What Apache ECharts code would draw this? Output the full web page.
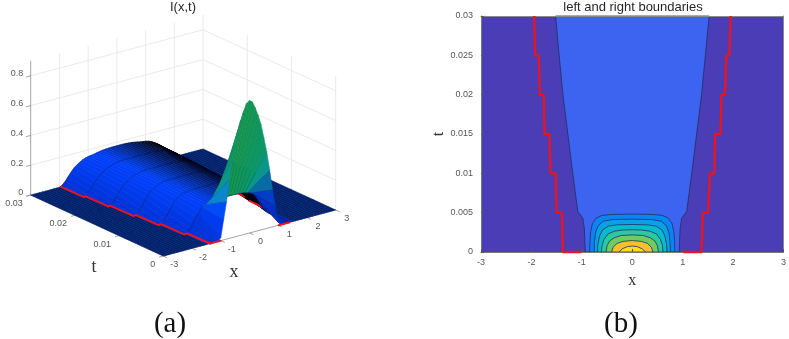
<!DOCTYPE html>
<html>
<head>
<meta charset="utf-8">
<style>html,body{margin:0;padding:0;background:#fff}#c{width:789px;height:339px;filter:blur(0.4px)}</style>
<script src="https://cdn.jsdelivr.net/npm/echarts@6/dist/echarts.min.js"></script>
</head>
<body>
<div id="c"></div>
<script>
// ---------- tick labels ----------
const xTicks = [-3, -2, -1, 0, 1, 2, 3];
const tTicks = [0, 0.01, 0.02, 0.03];
const zTicks = [0, 0.2, 0.4, 0.6, 0.8];
const zTop = 0.9;

// ---------- surface I(x,t) ----------
const meshX = [-3,-2.9,-2.8,-2.7,-2.6,-2.5,-2.4,-2.3,-2.2,-2.1,-2,-1.9,-1.8,-1.7,-1.6,-1.5,-1.4,-1.3,-1.2,-1.1,-1,-0.9,-0.8,-0.7,-0.6,-0.5,-0.4,-0.3,-0.2,-0.1,0,0.1,0.2,0.3,0.4,0.5,0.6,0.7,0.8,0.9,1,1.1,1.2,1.3,1.4,1.5,1.6,1.7,1.8,1.9,2,2.1,2.2,2.3,2.4,2.5,2.6,2.7,2.8,2.9,3];
const meshT = [0, 0.005, 0.01, 0.015, 0.02, 0.025, 0.03];
const rowT000 = [0,0,0,0,0,0,0,0,0,0,0,0,0,0,0,0,0,0,0,0,.02,.135,.25,.39,.515,.615,.71,.775,.83,.875,.89,.875,.83,.775,.71,.615,.515,.39,.25,.135,.02,0,0,0,0,0,0,0,0,0,0,0,0,0,0,0,0,0,0,0,0];
const rowT005 = [0,0,0,0,0,0,0,0,0,0,0,0,0,0,0,0,.005,.03,.06,.094,.122,.148,.16,.168,.172,.175,.176,.177,.178,.178,.178,.178,.178,.177,.176,.175,.172,.168,.16,.148,.122,.085,.045,.015,.002,0,0,0,0,0,0,0,0,0,0,0,0,0,0,0,0];
const rowT010 = [0,0,0,0,0,0,0,0,0,0,0,0,0,0,0,.006,.032,.06,.094,.122,.146,.158,.167,.172,.176,.178,.178,.178,.178,.178,.178,.178,.178,.178,.178,.178,.176,.172,.167,.158,.146,.122,.094,.06,.032,.006,0,0,0,0,0,0,0,0,0,0,0,0,0,0,0];
const rowT015 = [0,0,0,0,0,0,0,0,0,0,0,0,0,0,.01,.035,.065,.095,.122,.14,.153,.163,.17,.175,.177,.178,.178,.178,.178,.178,.178,.178,.178,.178,.178,.178,.177,.175,.17,.163,.153,.14,.122,.095,.065,.035,.01,0,0,0,0,0,0,0,0,0,0,0,0,0,0];
const rowT020 = [0,0,0,0,0,0,0,0,0,0,0,0,0,.015,.04,.067,.093,.118,.135,.146,.156,.165,.171,.175,.177,.178,.178,.178,.178,.178,.178,.178,.178,.178,.178,.178,.177,.175,.171,.165,.156,.146,.135,.118,.093,.067,.04,.015,0,0,0,0,0,0,0,0,0,0,0,0,0];
const rowT025 = [0,0,0,0,0,0,0,0,0,0,0,0,.012,.036,.062,.087,.11,.127,.14,.15,.157,.165,.171,.174,.176,.177,.177,.177,.177,.177,.177,.177,.177,.177,.177,.177,.176,.174,.171,.165,.157,.15,.14,.127,.11,.087,.062,.036,.012,0,0,0,0,0,0,0,0,0,0,0,0];
const rowT030 = [0,0,0,0,0,0,0,0,0,0,0,.01,.03,.055,.08,.103,.118,.131,.142,.15,.155,.158,.161,.165,.169,.172,.174,.175,.176,.176,.176,.176,.176,.175,.174,.172,.169,.165,.161,.158,.155,.15,.142,.131,.118,.103,.08,.055,.03,.01,0,0,0,0,0,0,0,0,0,0,0];
const surfaceRows = [rowT000, rowT005, rowT010, rowT015, rowT020, rowT025, rowT030];

// ---------- red boundaries [x, t] ----------
const redLeft = [[-1.01,0],[-1.375,0],[-1.395,.005],[-1.5,.005],[-1.52,.01],[-1.62,.01],[-1.644,.015],[-1.742,.015],[-1.755,.02],[-1.834,.02],[-1.854,.025],[-1.926,.025],[-1.945,.03]];
const redRight = [[1.015,0],[1.375,0],[1.4,.005],[1.506,.005],[1.54,.01],[1.63,.01],[1.645,.015],[1.75,.015],[1.77,.02],[1.84,.02],[1.867,.025],[1.926,.025],[1.952,.03]];

// ---------- filled contours [x, t] ----------
const contour1 = [[-.93,0],[-.94,.0015],[-.95,.003],[-.98,.0043],[-1.08,.00515],[-1.18,.01],[-1.277,.015],[-1.375,.02],[-1.45,.025],[-1.52,.03],[1.526,.03],[1.45,.025],[1.375,.02],[1.277,.015],[1.18,.01],[1.08,.00515],[.98,.0043],[.95,.003],[.94,.0015],[.93,0]];
const contour2 = [[-.845,0],[-.84,.0012],[-.825,.0026],[-.79,.0036],[-.72,.0043],[-.6,.00465],[-.4,.00478],[0,.00482],[.4,.00478],[.6,.00465],[.72,.0043],[.79,.0036],[.825,.0026],[.84,.0012],[.845,0]];
const contour3 = [[-.755,0],[-.75,.0012],[-.73,.0024],[-.68,.0033],[-.58,.0039],[-.4,.00412],[0,.00418],[.4,.00412],[.58,.0039],[.68,.0033],[.73,.0024],[.75,.0012],[.755,0]];
const contour4 = [[-.69,0],[-.68,.001],[-.65,.002],[-.59,.0028],[-.47,.0033],[-.3,.00345],[0,.0035],[.3,.00345],[.47,.0033],[.59,.0028],[.65,.002],[.68,.001],[.69,0]];
const contour5 = [[-.61,0],[-.6,.0008],[-.56,.0016],[-.48,.0023],[-.35,.00265],[-.18,.0028],[0,.00283],[.18,.0028],[.35,.00265],[.48,.0023],[.56,.0016],[.6,.0008],[.61,0]];
const contour6 = [[-.52,0],[-.5,.0008],[-.45,.0014],[-.36,.0018],[-.22,.0021],[0,.00217],[.22,.0021],[.36,.0018],[.45,.0014],[.5,.0008],[.52,0]];
const contour7 = [[-.41,0],[-.38,.0006],[-.3,.0011],[-.18,.00135],[0,.00145],[.18,.00135],[.3,.0011],[.38,.0006],[.41,0]];
const contour8 = [[-.26,0],[-.2,.0004],[-.1,.00068],[0,.00075],[.1,.00068],[.2,.0004],[.26,0]];
const contours = [contour1, contour2, contour3, contour4, contour5, contour6, contour7, contour8];
const contourColors = ['#3c64f0','#0a84f4','#0aa0e4','#06bccc','#2cc8a0','#70cc60','#f4c030','#fbdc20'];
const baseColor = '#4a3db5';

// ---------- view projection of the 3-D panel ----------
const O = [163.3, 256], PX = [28.73, -7.67], PT = [-4420, -2033], PZ = -149;
function proj(x, t, z) {
  return [O[0] + PX[0] * (x + 3) + PT[0] * t, O[1] + PX[1] * (x + 3) + PT[1] * t + PZ * z];
}
const ramp = [[0,[0,50,215]],[.17,[0,65,255]],[.3,[10,130,215]],[.4,[10,150,170]],[.5,[10,150,110]],[.9,[20,150,80]]];
function rampColor(z, b) {
  let k = 0;
  while (k < ramp.length - 2 && z > ramp[k + 1][0]) k++;
  const f = Math.min(1, (z - ramp[k][0]) / (ramp[k + 1][0] - ramp[k][0]));
  const c = ramp[k][1].map((v, n) => Math.round((v + (ramp[k + 1][1][n] - v) * f) * b));
  return 'rgb(' + c.join(',') + ')';
}

// painter's order: far band first, far column first; near-side boundary last
const nx = meshX.length, nt = meshT.length;
const drawList = [];
function redRightItems(j) {
  for (let k = 0; k < redRight.length - 1; k++) {
    const a = redRight[k][1], b = redRight[k + 1][1], tm = (a + b) / 2;
    const inBand = a === b ? a === meshT[j] && j > 0 : tm >= meshT[j] && tm < meshT[j + 1];
    if (inBand) drawList.push([2, k, 0]);
  }
}
for (let j = nt - 2; j >= 0; j--) {
  if (j === 0) redRightItems(j);
  for (let i = nx - 2; i >= 0; i--) drawList.push([0, i, j]);
  if (j > 0) redRightItems(j);
}
for (let k = 0; k < redLeft.length - 1; k++) drawList.push([1, k, 0]);
drawList.push([2, 0, 0]);

function renderSurface(params, api) {
  const kind = api.value(0), a = api.value(1), b = api.value(2);
  const toPx = (x, t, z) => api.coord(proj(x, t, z));
  if (kind !== 0) {
    const arr = kind === 1 ? redLeft : redRight;
    return { type: 'polyline', shape: { points: [toPx(arr[a][0], arr[a][1], 0), toPx(arr[a + 1][0], arr[a + 1][1], 0)] },
      style: { stroke: '#e8141e', lineWidth: 2, fill: null, lineCap: 'round' } };
  }
  const i = a, j = b, r0 = surfaceRows[j], r1 = surfaceRows[j + 1];
  const p = [toPx(meshX[i], meshT[j], r0[i]), toPx(meshX[i + 1], meshT[j], r0[i + 1]), toPx(meshX[i + 1], meshT[j + 1], r1[i + 1]), toPx(meshX[i], meshT[j + 1], r1[i])];
  const zm = (r0[i] + r0[i + 1] + r1[i] + r1[i + 1]) / 4;
  if (zm === 0) {
    return { type: 'polygon', shape: { points: p }, style: { fill: '#00206c', stroke: '#00206c', lineWidth: 0.6 } };
  }
  const xm = (meshX[i] + meshX[i + 1]) / 2;
  const br = j === 0 ? (xm > 0.7 ? 0.8 : 1) : Math.max(0.04, Math.min(1, 0.62 - 0.5 * xm));
  const colorZ = j === 0 ? Math.max(zm, (r0[i] + r0[i + 1]) / 2) : zm;
  const col = rampColor(colorZ, br);
  const fanAlpha = j === 0 && Math.abs(xm) > 0.55 ? 0.75 : 0.36;
  return { type: 'group', children: [
    { type: 'polygon', shape: { points: p }, style: { fill: col, stroke: col, lineWidth: 0.5 } },
    { type: 'polyline', shape: { points: [p[0], p[3]] }, style: { stroke: 'rgba(0,0,20,' + fanAlpha + ')', lineWidth: 0.5, fill: null } },
    { type: 'polyline', shape: { points: [p[2], p[3]] }, style: { stroke: 'rgba(0,0,20,0.55)', lineWidth: 0.6, fill: null } }
  ] };
}

// walls and axes of the 3-D panel
const wallLines = [];
[-2, -1, 0, 1, 2, 3].forEach(x => wallLines.push([x, .03, 0, x, .03, zTop]));
[.02, .01, 0].forEach(t => wallLines.push([3, t, 0, 3, t, zTop]));
[.2, .4, .6, .8].forEach(z => { wallLines.push([-3, .03, z, 3, .03, z]); wallLines.push([3, .03, z, 3, 0, z]); });
const axisLines = [[-3, .03, 0, -3, .03, zTop], [-3, .03, 0, -3, 0, 0], [-3, 0, 0, 3, 0, 0]];
xTicks.forEach(x => axisLines.push([x, 0, 0, x, -.0009, 0]));
tTicks.forEach(t => axisLines.push([-3, t, 0, -3.14, t, 0]));
zTicks.forEach(z => axisLines.push([-3, .03, z, -3.16, .03, z]));

function lineSeries(lines, color, z) {
  return {
    type: 'custom', coordinateSystem: 'cartesian2d', xAxisIndex: 2, yAxisIndex: 2, silent: true, animation: false, clip: false, z,
    data: lines.map((l, n) => [n, 0]),
    renderItem: (params, api) => {
      const l = lines[api.value(0)];
      const A = api.coord(proj(l[0], l[1], l[2])), B = api.coord(proj(l[3], l[4], l[5]));
      return { type: 'line', shape: { x1: A[0], y1: A[1], x2: B[0], y2: B[1] }, style: { stroke: color, lineWidth: 0.8 } };
    }
  };
}

// tick labels of the 3-D panel
const labels3d = [];
xTicks.forEach(x => labels3d.push([String(x), proj(x, 0, 0), 11, 9, 'center']));
tTicks.forEach(t => labels3d.push([String(t), proj(-3, t, 0), -8, 8.5, 'right']));
zTicks.forEach(z => labels3d.push([String(z), proj(-3, .03, z), -7.5, -2, 'right']));

const contourData = [];
contours.forEach((c, n) => contourData.push([n, 0]));

const option = {
  animation: false,
  backgroundColor: '#ffffff',
  title: [
    { text: 'I(x,t)', left: 183, top: 1, padding: 0, textAlign: 'center', textStyle: { fontFamily: 'Liberation Sans', fontSize: 13, fontWeight: 'normal', color: '#262626' } },
    { text: 'left and right boundaries', left: 633, top: 1, padding: 0, textAlign: 'center', textStyle: { fontFamily: 'Liberation Sans', fontSize: 13, fontWeight: 'normal', color: '#262626' } },
    { text: '(a)', left: 170, top: 310, padding: 0, textAlign: 'center', textStyle: { fontFamily: 'Liberation Serif', fontSize: 29, fontWeight: 'normal', color: '#111' } },
    { text: '(b)', left: 621, top: 310, padding: 0, textAlign: 'center', textStyle: { fontFamily: 'Liberation Serif', fontSize: 29, fontWeight: 'normal', color: '#111' } },
    { text: 't', left: 94, top: 258, padding: 0, textAlign: 'center', textStyle: { fontFamily: 'Liberation Serif', fontSize: 18, fontWeight: 'normal', color: '#333' } },
    { text: 'x', left: 234, top: 263, padding: 0, textAlign: 'center', textStyle: { fontFamily: 'Liberation Serif', fontSize: 18, fontWeight: 'normal', color: '#333' } }
  ],
  grid: [
    { left: 481, right: 3, top: 16, bottom: 87 },
    { left: 0, top: 0, width: 400, height: 339 }
  ],
  xAxis: [
    { type: 'value', gridIndex: 0, min: -3, max: 3, interval: 1, position: 'bottom', z: 5, name: 'x', nameLocation: 'middle', nameGap: 21,
      nameTextStyle: { fontFamily: 'Liberation Serif', fontSize: 16, color: '#333' },
      axisLine: { onZero: false, lineStyle: { color: '#7a7a7a', width: 1 } }, axisTick: { inside: true, length: 3, lineStyle: { color: '#555' } },
      axisLabel: { fontFamily: 'Liberation Sans', fontSize: 9, color: '#555', margin: 6 }, splitLine: { show: false } },
    { type: 'value', gridIndex: 0, min: -3, max: 3, interval: 1, position: 'top', z: 5,
      axisLine: { onZero: false, lineStyle: { color: '#8a8a8a', width: 1 } }, axisTick: { show: false }, axisLabel: { show: false }, splitLine: { show: false } },
    { type: 'value', gridIndex: 1, min: 0, max: 400, show: false }
  ],
  yAxis: [
    { type: 'value', gridIndex: 0, min: 0, max: 0.03, interval: 0.005, position: 'left', z: 5, name: 't', nameLocation: 'middle', nameGap: 29, nameRotate: 90,
      nameTextStyle: { fontFamily: 'Liberation Serif', fontSize: 16, color: '#333' },
      axisLine: { onZero: false, lineStyle: { color: '#7a7a7a', width: 1 } }, axisTick: { inside: true, length: 3, lineStyle: { color: '#555' } },
      axisLabel: { fontFamily: 'Liberation Sans', fontSize: 9, color: '#555', margin: 8, showMinLabel: true, showMaxLabel: true }, splitLine: { show: false } },
    { type: 'value', gridIndex: 0, min: 0, max: 0.03, interval: 0.005, position: 'right', z: 5,
      axisLine: { onZero: false, lineStyle: { color: '#8a8a8a', width: 1 } }, axisTick: { show: false }, axisLabel: { show: false }, splitLine: { show: false } },
    { type: 'value', gridIndex: 1, min: 0, max: 339, inverse: true, show: false }
  ],
  series: [
    // panel (b)
    { type: 'custom', coordinateSystem: 'cartesian2d', xAxisIndex: 0, yAxisIndex: 0, silent: true, animation: false, z: 1,
      data: [[0, 0]],
      renderItem: (params, api) => {
        const A = api.coord([-3, 0.03]), B = api.coord([3, 0]);
        return { type: 'rect', shape: { x: A[0], y: A[1], width: B[0] - A[0], height: B[1] - A[1] }, style: { fill: baseColor } };
      } },
    { type: 'custom', coordinateSystem: 'cartesian2d', xAxisIndex: 0, yAxisIndex: 0, silent: true, animation: false, z: 2,
      data: contourData,
      renderItem: (params, api) => {
        const n = api.value(0);
        return { type: 'polygon', shape: { points: contours[n].map(p => api.coord(p)) },
          style: { fill: contourColors[n], stroke: '#1f2f60', lineWidth: 0.8 } };
      } },
    { type: 'line', xAxisIndex: 0, yAxisIndex: 0, data: redLeft, showSymbol: false, silent: true, z: 6, clip: false, lineStyle: { color: '#e8141e', width: 2.4 } },
    { type: 'line', xAxisIndex: 0, yAxisIndex: 0, data: redRight, showSymbol: false, silent: true, z: 6, clip: false, lineStyle: { color: '#e8141e', width: 2.4 } },
    // panel (a)
    lineSeries(wallLines, '#e4e4e4', 1),
    lineSeries(axisLines, '#8c8c8c', 1),
    { type: 'custom', coordinateSystem: 'cartesian2d', xAxisIndex: 2, yAxisIndex: 2, silent: true, animation: false, clip: false, z: 2, progressive: 0,
      data: drawList, renderItem: renderSurface },
    { type: 'custom', coordinateSystem: 'cartesian2d', xAxisIndex: 2, yAxisIndex: 2, silent: true, animation: false, clip: false, z: 3,
      data: labels3d.map((l, n) => [n, 0]),
      renderItem: (params, api) => {
        const l = labels3d[api.value(0)], P = api.coord(l[1]);
        return { type: 'text', x: P[0] + l[2], y: P[1] + l[3],
          style: { text: l[0], fill: '#555', fontFamily: 'Liberation Sans', fontSize: 9, textAlign: l[4], textVerticalAlign: 'middle' } };
      } }
  ]
};
echarts.init(document.getElementById('c')).setOption(option);
</script>
</body>
</html>
